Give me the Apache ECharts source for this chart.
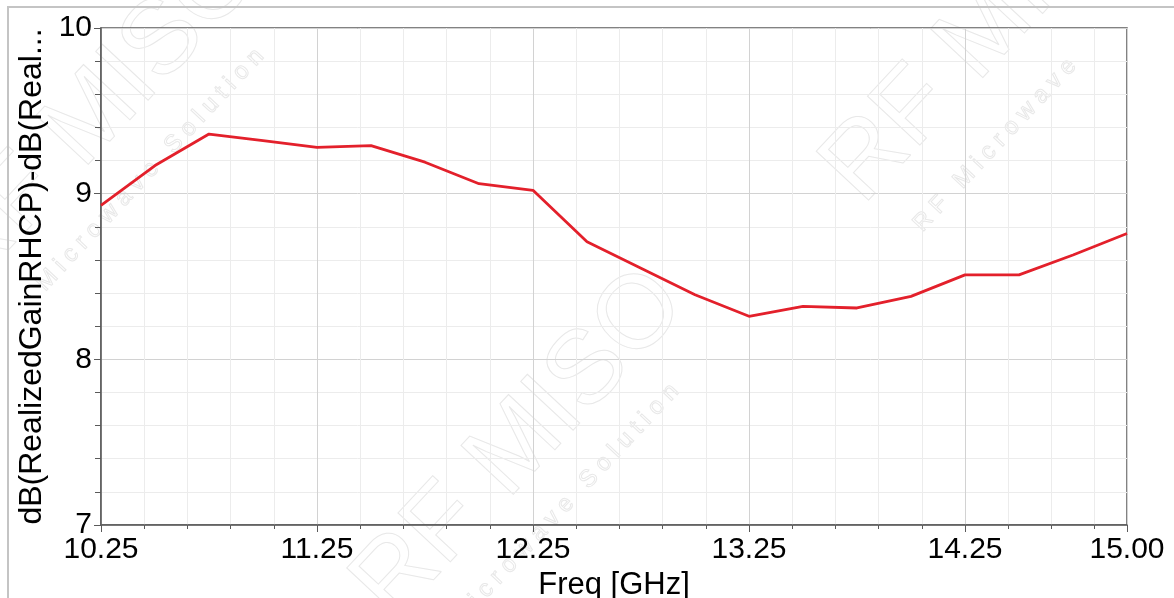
<!DOCTYPE html>
<html>
<head>
<meta charset="utf-8">
<script src="https://cdn.jsdelivr.net/npm/echarts@6/dist/echarts.min.js"></script>
<style>
  html, body { margin: 0; padding: 0; background: #fff; }
  #chart { width: 1174px; height: 598px; }
</style>
</head>
<body>
<div id="chart"></div>
<script>
// frequency points (GHz) and the trace values
var freqs = [10.25, 10.5, 10.75, 11.0, 11.25, 11.5, 11.75, 12.0, 12.25, 12.5,
  12.75, 13.0, 13.25, 13.5, 13.75, 14.0, 14.25, 14.5, 14.75, 15.0]
var gainDiff = [8.93, 9.17, 9.36, 9.32, 9.28, 9.29, 9.19, 9.06, 9.02, 8.71,
  8.55, 8.39, 8.26, 8.32, 8.31, 8.38, 8.51, 8.51, 8.63, 8.76]
var yTicks = [7, 8, 9, 10]
var xStart = 10.25
var xEnd = 15.0

var font = '"Liberation Sans", Arial, sans-serif'
var axisColor = '#5a5a5a'

// x axis runs as offset from the first frequency so ticks land on 10.25, 11.25 ...
var seriesData = freqs.map(function (f, i) {
  return [f - xStart, gainDiff[i]]
})

function watermark(x, y, size, text, rot) {
  return {
    type: 'text',
    x: x,
    y: y,
    rotation: rot,
    silent: true,
    z: -10,
    style: {
      text: text,
      font: size + 'px ' + font,
      align: 'center',
      verticalAlign: 'middle',
      fill: 'rgba(0,0,0,0)',
      stroke: '#e8e8e8',
      lineWidth: 1,
    },
  }
}

var chart = echarts.init(document.getElementById('chart'))

var option = {
  animation: false,
  backgroundColor: '#fff',
  textStyle: {
    fontFamily: font,
  },
  graphic: [
    {
      type: 'rect',
      silent: true,
      shape: { x: 8, y: 7, width: 1300, height: 700 },
      style: { fill: 'none', stroke: '#c4c4c4', lineWidth: 2 },
    },
    watermark(520, 445, 104, 'RF MISO', 0.82),
    watermark(565, 505, 24, 'M i c r o w a v e   S o l u t i o n', 0.82),
    watermark(95, 115, 104, 'RF MISO', 0.82),
    watermark(150, 170, 24, 'M i c r o w a v e   S o l u t i o n', 0.82),
    watermark(960, 60, 104, '\u00a0\u00a0\u00a0RF MISO', 0.82),
    watermark(995, 145, 24, 'R F   M i c r o w a v e', 0.82),
  ],
  grid: {
    left: 101,
    right: 47,
    top: 28,
    bottom: 73,
    outerBoundsMode: 'none',
    containLabel: false,
    show: true,
    borderColor: axisColor,
    borderWidth: 1.5,
    backgroundColor: 'transparent',
  },
  xAxis: {
    type: 'value',
    min: 0,
    max: xEnd - xStart,
    interval: 1,
    name: 'Freq [GHz]',
    nameLocation: 'middle',
    nameGap: 43,
    nameTextStyle: {
      fontSize: 31,
      color: '#000',
      fontFamily: font,
    },
    axisLine: {
      show: true,
      lineStyle: { color: axisColor, width: 1.5 },
    },
    axisTick: {
      show: true,
      length: 7,
      lineStyle: { color: axisColor, width: 1 },
    },
    minorTick: {
      show: true,
      splitNumber: 5,
      length: 4,
      lineStyle: { color: axisColor, width: 1 },
    },
    axisLabel: {
      fontSize: 30,
      color: '#000',
      margin: 10,
      fontFamily: font,
      formatter: function (v) {
        return (v + xStart).toFixed(2)
      },
    },
    splitLine: {
      show: true,
      lineStyle: { color: '#d2d2d2', width: 1 },
    },
    minorSplitLine: {
      show: true,
      lineStyle: { color: '#ececec', width: 1 },
    },
  },
  yAxis: {
    type: 'value',
    min: yTicks[0],
    max: yTicks[yTicks.length - 1],
    interval: 1,
    name: 'dB(RealizedGainRHCP)-dB(Real...',
    nameLocation: 'middle',
    nameGap: 52,
    nameTextStyle: {
      fontSize: 32,
      color: '#000',
      fontFamily: font,
    },
    axisLine: {
      show: true,
      lineStyle: { color: axisColor, width: 1.5 },
    },
    axisTick: {
      show: true,
      length: 7,
      lineStyle: { color: axisColor, width: 1 },
    },
    minorTick: {
      show: true,
      splitNumber: 5,
      length: 6,
      lineStyle: { color: axisColor, width: 1 },
    },
    axisLabel: {
      fontSize: 30,
      color: '#000',
      margin: 9,
      fontFamily: font,
    },
    splitLine: {
      show: true,
      lineStyle: { color: '#d2d2d2', width: 1 },
    },
    minorSplitLine: {
      show: true,
      lineStyle: { color: '#ececec', width: 1 },
    },
  },
  series: [
    {
      type: 'line',
      data: seriesData,
      showSymbol: false,
      symbol: 'none',
      lineStyle: {
        color: '#e3202b',
        width: 2.8,
      },
    },
  ],
}

chart.setOption(option)
</script>
</body>
</html>
